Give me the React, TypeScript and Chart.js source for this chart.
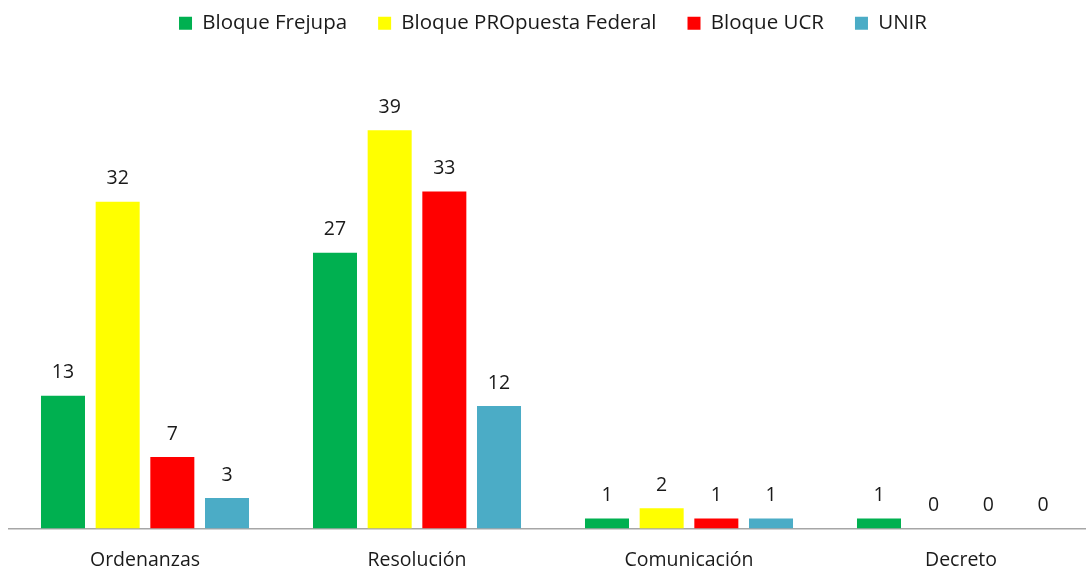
import React, { useEffect, useRef } from "react";
import { Chart, registerables } from "chart.js";

Chart.register(...registerables);

const categories = ["Ordenanzas", "Resolución", "Comunicación", "Decreto"];
const seriesNames = ["Bloque Frejupa", "Bloque PROpuesta Federal", "Bloque UCR", "UNIR"];
const frejupa = [13, 27, 1, 1];
const propuesta = [32, 39, 2, 0];
const ucr = [7, 33, 1, 0];
const unir = [3, 12, 1, 0];
const seriesColors = ["#00B050", "#FFFF00", "#FF0000", "#4BACC6"];

const FONT = "'Open Sans', sans-serif";
const SHIFT = 18;
const CLIP_BOTTOM = 14;

const dataLabels = {
  id: "dataLabels",
  afterDatasetsDraw(chart: any) {
    const ctx = chart.ctx;
    ctx.save();
    ctx.font = `19.5px ${FONT}`;
    ctx.fillStyle = "#1a1a1a";
    ctx.textAlign = "center";
    ctx.textBaseline = "middle";
    chart.data.datasets.forEach((ds: any, i: number) => {
      const meta = chart.getDatasetMeta(i);
      meta.data.forEach((el: any, j: number) => {
        ctx.fillText(String(ds.data[j]), el.x, el.y - 23);
      });
    });
    ctx.restore();
  },
};

export default function App() {
  const ref = useRef<HTMLCanvasElement>(null);
  useEffect(() => {
    const all = [frejupa, propuesta, ucr, unir];
    const chart = new Chart(ref.current!, {
      type: "bar",
      data: {
        labels: categories,
        datasets: all.map((d, i) => ({
          label: seriesNames[i],
          data: d,
          backgroundColor: seriesColors[i],
          borderWidth: 0,
          categoryPercentage: 0.804,
          barPercentage: 0.805,
        })),
      },
      options: {
        animation: false,
        responsive: false,
        maintainAspectRatio: false,
        layout: { padding: { left: 9, right: 0, top: 0, bottom: 1 } },
        plugins: {
          legend: {
            display: true,
            position: "top",
            labels: {
              boxWidth: 13,
              boxHeight: 13,
              padding: 31,
              color: "#1a1a1a",
              font: { family: FONT, size: 20.5 },
            },
          },
          tooltip: { enabled: false },
        },
        scales: {
          x: {
            grid: { display: false },
            border: { display: true, color: "#A6A6A6", width: 1.5 },
            ticks: { color: "#1a1a1a", font: { family: FONT, size: 19.5 }, padding: 12 },
          },
          y: {
            display: false,
            min: 0,
            max: 47.5,
          },
        },
      },
      plugins: [dataLabels],
    });
    return () => chart.destroy();
  }, []);
  return (
    <div style={{ position: "fixed", left: 0, top: 0, width: 1086, height: 571, overflow: "hidden", background: "#fff" }}>
      <canvas
        ref={ref}
        width={1097}
        height={571 + SHIFT + CLIP_BOTTOM}
        style={{ display: "block", position: "absolute", left: 0, top: -SHIFT }}
      />
    </div>
  );
}
